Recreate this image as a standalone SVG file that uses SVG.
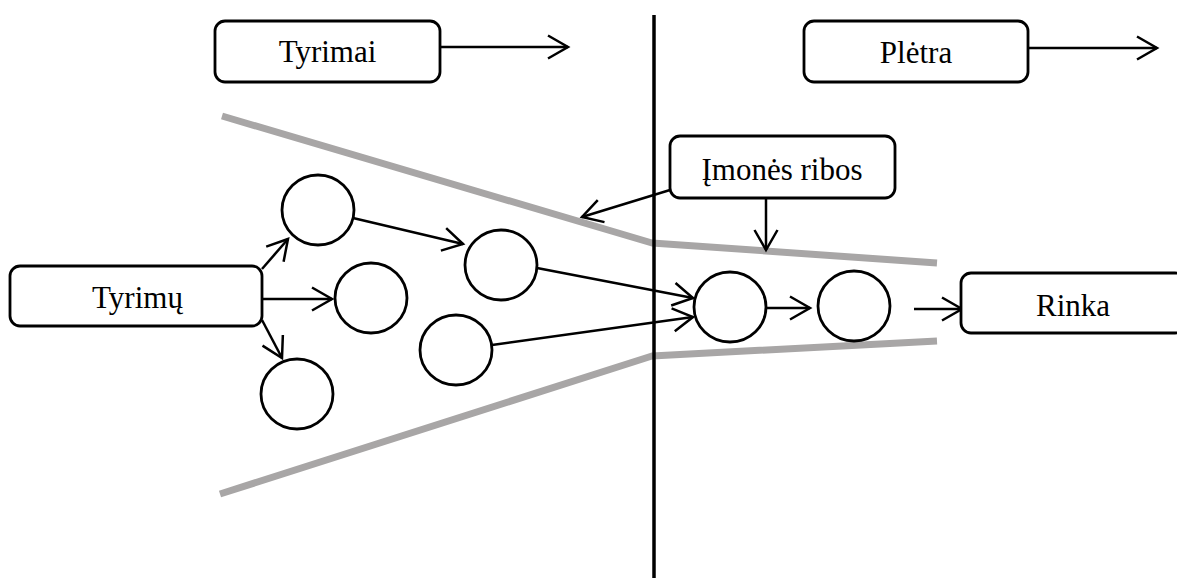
<svg xmlns="http://www.w3.org/2000/svg" width="1177" height="578" viewBox="0 0 1177 578">
  <style>
    .box { fill: #ffffff; stroke: #000000; stroke-width: 2.8; }
    .node { fill: #ffffff; stroke: #000000; stroke-width: 2.8; }
    .label { font-family: "Liberation Serif", "Times New Roman", "DejaVu Serif", serif; font-size: 31px; fill: #000000; text-anchor: middle; }
    .edge { fill: none; stroke: #000000; stroke-width: 2.5; marker-end: url(#arrow); }
    .bound { fill: none; stroke: #a8a6a6; stroke-width: 7; stroke-linejoin: round; }
    .divider { stroke: #000000; stroke-width: 3.5; }
  </style>
  <defs>
    <marker id="arrow" markerUnits="userSpaceOnUse" viewBox="-23 -14 26 28" markerWidth="26" markerHeight="28" refX="0" refY="0" orient="auto">
      <path d="M-20,-11.5 L0,0 L-20,11.5" fill="none" stroke="#000000" stroke-width="2.5"/>
    </marker>
  </defs>

  <rect width="1177" height="578" fill="#ffffff"/>

  <!-- company boundary lines -->
  <g id="boundaries">
    <polyline class="bound" points="222,116 652,243 937,263"/>
    <polyline class="bound" points="220,494 652,356 937,341"/>
  </g>

  <!-- research / development divider -->
  <line id="divider" class="divider" x1="654" y1="15" x2="654" y2="578"/>

  <!-- connectors -->
  <g id="connectors">
    <line class="edge" x1="440" y1="47" x2="568" y2="47"/>
    <line class="edge" x1="1028" y1="48" x2="1157" y2="48"/>
    <line class="edge" x1="262" y1="269" x2="288" y2="239"/>
    <line class="edge" x1="262" y1="299" x2="332" y2="299"/>
    <line class="edge" x1="262" y1="320" x2="282" y2="358"/>
    <line class="edge" x1="353" y1="218" x2="463" y2="244"/>
    <line class="edge" x1="537" y1="268" x2="693" y2="298"/>
    <line class="edge" x1="492" y1="345" x2="693" y2="317"/>
    <line class="edge" x1="767" y1="308" x2="810" y2="308"/>
    <line class="edge" x1="914" y1="309" x2="962" y2="309"/>
    <line class="edge" x1="670" y1="190" x2="582" y2="217"/>
    <line class="edge" x1="766" y1="198" x2="766" y2="250"/>
  </g>

  <!-- labelled boxes -->
  <g id="tyrimai">
    <rect class="box" x="215" y="21" width="225" height="61" rx="10"/>
    <text class="label" x="327.5" y="62">Tyrimai</text>
  </g>
  <g id="pletra">
    <rect class="box" x="804" y="21" width="224" height="61" rx="10"/>
    <text class="label" x="916" y="63">Plėtra</text>
  </g>
  <g id="tyrimu">
    <rect class="box" x="10" y="266" width="252" height="60" rx="10"/>
    <text class="label" x="137.5" y="308">Tyrimų</text>
  </g>
  <g id="imones-ribos">
    <rect class="box" x="670" y="136" width="225" height="62" rx="10"/>
    <text class="label" x="782" y="180">Įmonės ribos</text>
  </g>
  <g id="rinka">
    <rect class="box" x="961" y="273" width="224" height="60" rx="10"/>
    <text class="label" x="1073" y="316">Rinka</text>
  </g>

  <!-- project circles -->
  <g id="circle-a"><ellipse class="node" cx="318" cy="210" rx="36" ry="35"/></g>
  <g id="circle-b"><ellipse class="node" cx="371" cy="298" rx="36" ry="35"/></g>
  <g id="circle-c"><ellipse class="node" cx="297" cy="394" rx="36" ry="35"/></g>
  <g id="circle-d"><ellipse class="node" cx="501" cy="265" rx="36" ry="35"/></g>
  <g id="circle-e"><ellipse class="node" cx="456" cy="350" rx="36" ry="35"/></g>
  <g id="circle-f"><ellipse class="node" cx="730" cy="307" rx="36" ry="35"/></g>
  <g id="circle-g"><ellipse class="node" cx="854" cy="306" rx="36" ry="35"/></g>
</svg>
